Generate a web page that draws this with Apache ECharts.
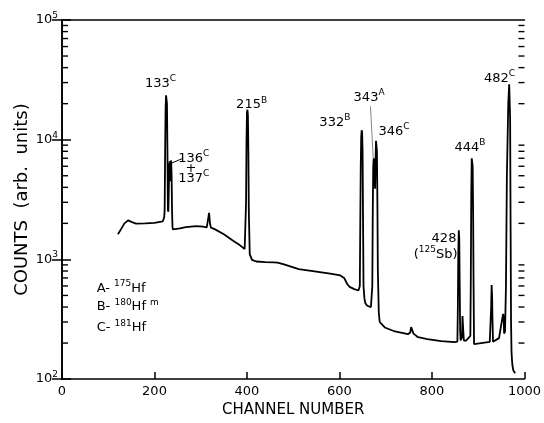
<!DOCTYPE html>
<html>
<head>
<meta charset="utf-8">
<script src="https://cdn.jsdelivr.net/npm/echarts@6/dist/echarts.min.js"></script>
<style>
  html, body { margin: 0; padding: 0; background: #fff; }
  #chart { width: 544px; height: 423px; }
</style>
</head>
<body>
<div id="chart"></div>
<script>
// spectrum
var channels = [121, 128, 135, 143, 150, 160, 180, 200, 218, 221, 222, 223, 224, 225, 226, 227, 228, 229, 230, 231, 232, 233, 234, 235, 236, 237, 238, 239, 240, 244, 255, 268, 290, 305, 313, 316, 317, 318, 319, 320, 322, 330, 350, 370, 385, 395, 397, 398, 399, 400, 401, 402, 403, 404, 406, 411, 420, 440, 458, 462, 466, 480, 512, 550, 580, 602, 610, 617, 622, 632, 641, 644, 645, 646, 647, 648, 649, 650, 651, 652, 654, 656, 660, 668, 670, 671, 672, 673, 674, 675, 676, 677, 678, 679, 680, 681, 682, 683, 685, 687, 698, 720, 748, 753, 755, 757, 760, 770, 790, 820, 849, 855, 856, 857, 858, 859, 860, 861, 862, 865, 866, 867, 868, 869, 870, 874, 877, 883, 884, 885, 886, 887, 888, 889, 890, 891, 895, 925, 928, 929, 930, 931, 932, 933, 935, 945, 952, 954, 955, 956, 957, 958, 960, 962, 965, 967, 968, 969, 970, 971, 972, 973, 974, 976, 980, 985, 990];
var counts = [1620, 1800, 2000, 2120, 2060, 1990, 2000, 2020, 2080, 2250, 2600, 8000, 18000, 23500, 24000, 20000, 8000, 2600, 2500, 4000, 6200, 6600, 4500, 6400, 6700, 5000, 2500, 1850, 1780, 1780, 1820, 1860, 1900, 1880, 1850, 1870, 2300, 2450, 2400, 2000, 1840, 1790, 1620, 1430, 1310, 1220, 1230, 3000, 10000, 17000, 17800, 16000, 8000, 2500, 1100, 990, 960, 950, 945, 965, 940, 910, 830, 790, 760, 735, 700, 620, 590, 565, 550, 600, 2000, 6000, 10500, 12000, 11500, 8000, 2000, 600, 470, 430, 410, 400, 405, 600, 2500, 6000, 7000, 6500, 4500, 3900, 6500, 9800, 10000, 8000, 3000, 800, 360, 300, 270, 250, 237, 245, 272, 265, 240, 224, 216, 208, 204, 206, 400, 1200, 1750, 1500, 600, 250, 210, 225, 337, 330, 240, 210, 210, 210, 215, 230, 700, 3500, 7000, 7200, 6000, 2500, 600, 196, 198, 205, 400, 610, 500, 300, 205, 205, 212, 220, 320, 350, 330, 240, 240, 250, 600, 5000, 20000, 29000, 28500, 15000, 2000, 300, 170, 145, 130, 118, 112];

var yTicks = [100, 1000, 10000, 100000];
var minorTicks = [200, 300, 400, 500, 600, 700, 800, 900, 2000, 3000, 4000, 5000, 6000, 7000, 8000, 9000,
  20000, 30000, 40000, 50000, 60000, 70000, 80000, 90000];

// text annotations: [channel, counts, rich text, align]
var notes = [
  [213, 29500, '{n|133}{s|C}', 'center'],
  [410, 19500, '{n|215}{s|B}', 'center'],
  [285, 7000, '{n|136}{s|C}', 'center'],
  [279, 5700, '{n|+}', 'center'],
  [285, 4750, '{n|137}{s|C}', 'center'],
  [590, 14000, '{n|332}{s|B}', 'center'],
  [664, 22500, '{n|343}{s|A}', 'center'],
  [718, 11700, '{n|346}{s|C}', 'center'],
  [882, 8600, '{n|444}{s|B}', 'center'],
  [946, 32500, '{n|482}{s|C}', 'center'],
  [826, 1500, '{n|428}', 'center'],
  [808, 1100, '{n|(}{s|125}{n|Sb)}', 'center'],
  [75, 575, '{n|A- }{s|175}{n|Hf}', 'left'],
  [75, 400, '{n|B- }{s|180}{n|Hf }{s|m}', 'left'],
  [75, 268, '{n|C- }{s|181}{n|Hf}', 'left']
];
var leader1 = [[262, 7000], [238, 6400]];
var leader2 = [[667, 19000], [673, 7000]];

var spectrum = channels.map(function (c, i) { return [c, counts[i]]; });
var font = 'DejaVu Sans';
var rich = {
  n: { fontFamily: font, fontSize: 13, color: '#000' },
  s: { fontFamily: font, fontSize: 9, color: '#000', padding: [0, 0, 9, 0] }
};

var chartDom = document.getElementById('chart');
var myChart = echarts.init(chartDom);

var option = {
  animation: false,
  backgroundColor: '#fff',
  grid: { left: 62, right: 17, top: 20, bottom: 42 },
  xAxis: [{
    type: 'value', min: 0, max: 1000, interval: 200,
    name: 'CHANNEL NUMBER', nameLocation: 'middle', nameGap: 22,
    nameTextStyle: { fontFamily: font, fontSize: 15, color: '#000' },
    axisLine: { show: true, lineStyle: { color: '#000', width: 1.6 } },
    axisTick: { show: true, inside: true, length: 7, lineStyle: { color: '#000', width: 1.5 } },
    axisLabel: { fontFamily: font, fontSize: 13, color: '#000', margin: 6, formatter: function (v) { return String(v); } },
    splitLine: { show: false }
  }, {
    type: 'value', min: 0, max: 1000, position: 'top',
    axisLine: { show: true, lineStyle: { color: '#000', width: 1.6 } },
    axisTick: { show: false }, axisLabel: { show: false }, splitLine: { show: false }
  }],
  yAxis: [{
    type: 'log', logBase: 10, min: 100, max: 100000,
    name: 'COUNTS  (arb.  units)', nameLocation: 'middle', nameGap: 31, nameMoveOverlap: false,
    nameTextStyle: { fontFamily: font, fontSize: 18, color: '#000' },
    axisLine: { show: true, lineStyle: { color: '#000', width: 1.6 } },
    axisTick: { show: true, inside: true, length: 9, lineStyle: { color: '#000', width: 1.5 } },
    axisLabel: {
      margin: 4,
      formatter: function (v) { return '{n|10}{s|' + Math.round(Math.log10(v)) + '}'; },
      rich: rich
    },
    splitLine: { show: false }
  }, {
    type: 'log', logBase: 10, min: 100, max: 100000, position: 'right',
    axisLine: { show: true, lineStyle: { color: '#000', width: 1.6 } },
    axisTick: { show: true, inside: true, length: 10, lineStyle: { color: '#000', width: 1.5 } },
    axisLabel: { show: false },
    splitLine: { show: false }
  }],
  series: [{
    type: 'line',
    data: spectrum,
    showSymbol: false,
    symbol: 'none',
    lineStyle: { color: '#000', width: 1.8 },
    z: 3
  }, {
    // minor log ticks on both sides
    type: 'custom',
    data: minorTicks.map(function (v) { return [500, v]; }),
    renderItem: function (params, api) {
      var v = api.value(1);
      var l = api.coord([0, v]);
      var r = api.coord([1000, v]);
      return {
        type: 'group',
        children: [
          { type: 'line', shape: { x1: l[0], y1: l[1], x2: l[0] + 6, y2: l[1] }, style: { stroke: '#000', lineWidth: 1.4 } },
          { type: 'line', shape: { x1: r[0], y1: r[1], x2: r[0] - 6, y2: r[1] }, style: { stroke: '#000', lineWidth: 1.4 } }
        ]
      };
    },
    z: 4
  }, {
    type: 'line', data: leader1, showSymbol: false, symbol: 'none',
    lineStyle: { color: '#000', width: 1 }
  }, {
    type: 'line', data: leader2, showSymbol: false, symbol: 'none',
    lineStyle: { color: '#666', width: 0.8 }
  }, {
    type: 'scatter',
    symbolSize: 0,
    itemStyle: { opacity: 1 },
    data: notes.map(function (d) {
      return {
        value: [d[0], d[1]],
        label: {
          show: true, position: 'inside', formatter: d[2], align: d[3],
          color: '#000', textBorderWidth: 0, opacity: 1, rich: rich
        }
      };
    })
  }]
};

myChart.setOption(option);
</script>
</body>
</html>
